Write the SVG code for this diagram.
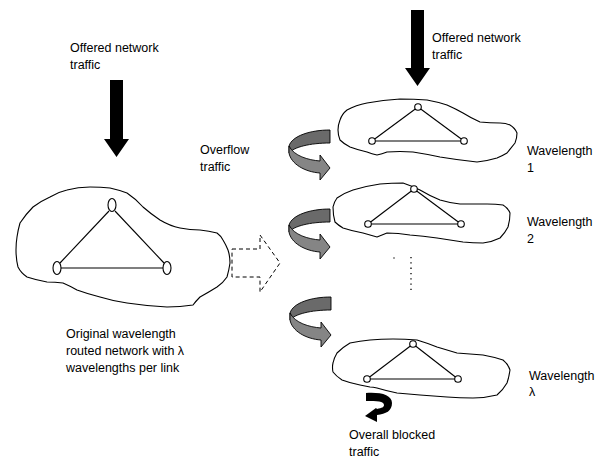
<svg xmlns="http://www.w3.org/2000/svg" width="602" height="459" viewBox="0 0 602 459">
<defs>
<style>
.t{font-family:"Liberation Sans",Arial,sans-serif;font-size:12.5px;fill:#000}
.blob{fill:#fff;stroke:#000;stroke-width:1.1;stroke-linejoin:round}
.edge{stroke:#000;stroke-width:1.1;fill:none}
.nd{fill:#fff;stroke:#000;stroke-width:1.1}
.blk{fill:#000}
</style>
<g id="garrow">
<path d="M0,0 C-20,0 -38,6 -41,16 L-41,23 C-36,17 -20,13 0,13 Z" fill="#6a6a6a" stroke="#000" stroke-width="0.9" stroke-linejoin="round"/>
<path d="M-41,16 L-41,23 C-39,34 -25,42 -10,43 L-10,50 L0,38 L-10,25 L-10,31 C-22,30 -36,26 -41,16 Z" fill="#858585" stroke="#000" stroke-width="0.9" stroke-linejoin="round"/>
</g>
</defs>
<rect width="602" height="459" fill="#fff"/>

<g id="original-network">
<path class="blob" d="M50,197 Q58,192 67,190 Q78,187 90,187 Q101,187 110,188 Q119,190 127,193 Q136,199 143,207 Q151,214 160,220 Q170,226 180,228 Q190,230 200,230 Q209,231 217,233 Q221,236 223,240 Q226,245 228,250 Q230,256 230,263 Q229,270 227,277 Q223,283 217,287 Q209,292 200,297 Q196,301 193,305 Q180,307 167,307 Q147,306 127,303 Q113,301 100,297 Q88,294 77,290 Q70,286 63,283 Q55,282 47,282 Q36,280 27,277 Q21,273 18,267 Q16,259 16,250 Q16,243 17,237 Q18,230 20,223 Q26,214 33,207 Q41,201 50,197 Z"/>
<line class="edge" x1="109" y1="211" x2="60" y2="263"/>
<line class="edge" x1="115" y1="211" x2="164" y2="263"/>
<line class="edge" x1="61" y1="268" x2="163" y2="268"/>
<ellipse class="nd" cx="112" cy="205" rx="4" ry="6.5"/>
<ellipse class="nd" cx="57" cy="268" rx="4" ry="6.5"/>
<ellipse class="nd" cx="167" cy="268" rx="4" ry="6.5"/>
</g>

<g id="wavelength-1">
<path class="blob" d="M340,120 Q342,114 347,110 Q356,105 367,103 Q383,100 400,99 Q414,99 427,100 Q438,102 447,105 Q456,109 463,113 Q471,118 480,122 Q490,123 500,123 Q506,123 510,125 Q515,128 517,133 Q517,138 515,143 Q511,148 507,153 Q502,156 497,158 Q487,161 477,162 Q458,160 440,157 Q426,154 413,152 Q400,151 387,152 Q382,154 377,155 Q372,154 367,152 Q358,150 350,147 Q344,144 340,140 Q338,135 338,130 Q338,125 340,120 Z"/>
<line class="edge" x1="372" y1="141" x2="418" y2="107"/>
<line class="edge" x1="418" y1="107" x2="464" y2="141"/>
<line class="edge" x1="372" y1="141" x2="464" y2="141"/>
<circle class="nd" cx="418" cy="107" r="3.3"/>
<circle class="nd" cx="372" cy="141" r="3.3"/>
<circle class="nd" cx="464" cy="141" r="3.3"/>
</g>

<g id="wavelength-2">
<path class="blob" d="M333,207 Q334,202 337,198 Q344,193 353,190 Q366,186 380,184 Q392,183 403,183 Q412,186 420,190 Q430,196 440,200 Q450,203 460,204 Q474,204 487,204 Q496,204 503,205 Q508,208 510,213 Q510,220 508,227 Q505,233 500,238 Q492,242 483,243 Q473,243 463,242 Q450,240 437,238 Q423,236 410,235 Q398,233 387,233 Q382,235 377,237 Q370,235 363,233 Q352,231 343,228 Q338,225 335,222 Q333,215 333,207 Z"/>
<line class="edge" x1="368" y1="224" x2="414" y2="189"/>
<line class="edge" x1="414" y1="189" x2="461" y2="224"/>
<line class="edge" x1="368" y1="224" x2="461" y2="224"/>
<circle class="nd" cx="414" cy="189" r="3.3"/>
<circle class="nd" cx="368" cy="224" r="3.3"/>
<circle class="nd" cx="461" cy="224" r="3.3"/>
</g>

<g id="wavelength-lambda">
<path class="blob" d="M333,363 Q334,358 337,353 Q343,347 350,343 Q360,341 370,340 Q381,339 393,339 Q405,339 417,340 Q427,343 437,347 Q447,350 457,353 Q470,354 483,355 Q494,357 503,360 Q508,364 510,370 Q509,377 507,383 Q503,390 497,395 Q485,398 473,398 Q460,398 447,397 Q433,396 420,395 Q408,394 397,393 Q387,391 377,388 Q373,387 370,387 Q365,386 360,385 Q350,383 342,380 Q336,376 333,372 Q332,367 333,363 Z"/>
<line class="edge" x1="367" y1="379" x2="413" y2="344"/>
<line class="edge" x1="413" y1="344" x2="458" y2="379"/>
<line class="edge" x1="367" y1="379" x2="458" y2="379"/>
<circle class="nd" cx="413" cy="344" r="3.3"/>
<circle class="nd" cx="367" cy="379" r="3.3"/>
<circle class="nd" cx="458" cy="379" r="3.3"/>
</g>

<g id="connectors">
<polygon class="blk" points="110,80 123,80 123,139 129,139 116.5,157 104,139 110,139"/>
<polygon class="blk" points="411,10 424,10 424,68 430,68 417.5,86 405,68 411,68"/>
<polygon points="232,249 260,249 260,235 280,263 260,292 260,277 232,277" fill="#fff" stroke="#000" stroke-width="1" stroke-dasharray="4,3"/>
<use href="#garrow" x="330" y="130"/>
<use href="#garrow" x="330" y="209"/>
<use href="#garrow" x="331" y="297"/>
<path class="blk" d="M366,393 C381,392 392,395 392,403 C392,411 386,414 377,415 L377,422 L365,416 L376,408 L377,409 C382,408 384,407 384,405 C384,401 377,401 366,401 Z"/>
<line x1="411" y1="257" x2="411" y2="291" stroke="#000" stroke-width="1.3" stroke-dasharray="1.3,4"/>
<circle cx="394" cy="258" r="0.7" fill="#000"/>
</g>

<g id="labels">
<text class="t" x="70" y="52">Offered network</text>
<text class="t" x="70" y="69">traffic</text>
<text class="t" x="432" y="42">Offered network</text>
<text class="t" x="432" y="59">traffic</text>
<text class="t" x="200" y="154">Overflow</text>
<text class="t" x="200" y="171">traffic</text>
<text class="t" x="527" y="155">Wavelength</text>
<text class="t" x="527" y="172">1</text>
<text class="t" x="527" y="226">Wavelength</text>
<text class="t" x="527" y="243">2</text>
<text class="t" x="529" y="380">Wavelength</text>
<text class="t" x="529" y="396">λ</text>
<text class="t" x="349" y="439">Overall blocked</text>
<text class="t" x="349" y="456">traffic</text>
<text class="t" x="66" y="338">Original wavelength</text>
<text class="t" x="66" y="355">routed network with λ</text>
<text class="t" x="66" y="372">wavelengths per link</text>
</g>
</svg>
